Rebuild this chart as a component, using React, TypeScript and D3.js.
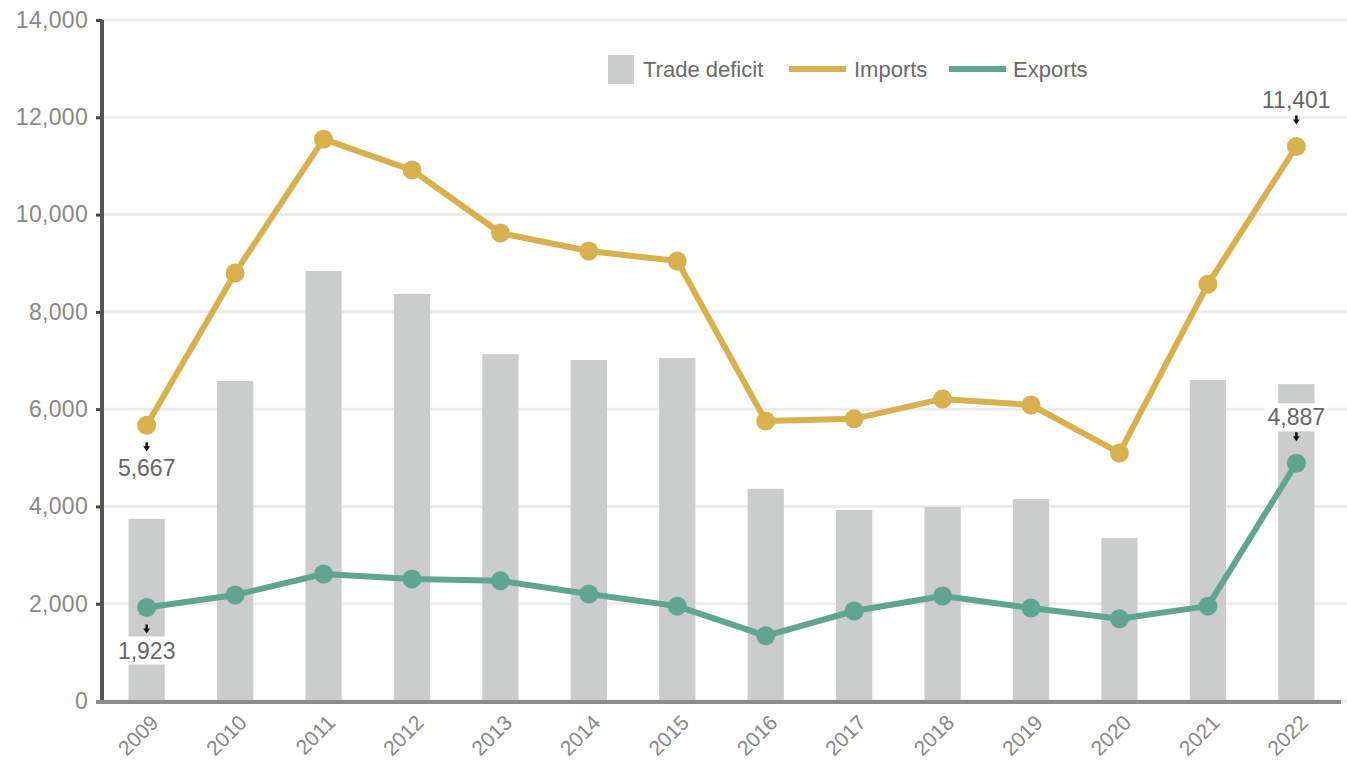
import * as d3 from 'd3';
import React, { useEffect, useRef } from 'react';

const years = ['2009', '2010', '2011', '2012', '2013', '2014', '2015', '2016', '2017', '2018', '2019', '2020', '2021', '2022'];
const tradeDeficit = [3744, 6580, 8840, 8370, 7130, 7010, 7050, 4360, 3930, 3990, 4150, 3350, 6600, 6514];
const imports = [5667, 8800, 11550, 10915, 9620, 9250, 9045, 5755, 5800, 6210, 6085, 5100, 8570, 11401];
const exports = [1923, 2180, 2610, 2510, 2470, 2200, 1950, 1340, 1850, 2160, 1910, 1690, 1950, 4887];
const yTicks = [0, 2000, 4000, 6000, 8000, 10000, 12000, 14000];

// which points get a value label, and on which side
const callouts = [
  { series: 'imports', index: 0, side: 'below' },
  { series: 'exports', index: 0, side: 'below' },
  { series: 'imports', index: 13, side: 'above' },
  { series: 'exports', index: 13, side: 'above' },
];

const IMPORT_COLOR = '#d8b04e';
const EXPORT_COLOR = '#5fa58f';
const BAR_COLOR = '#cbcccc';

const W = 1347;
const H = 769;

export default function App() {
  const svgRef = useRef<SVGSVGElement>(null);

  useEffect(() => {
    if (!svgRef.current) return;
    const svg = d3.select(svgRef.current);
    svg.selectAll('*').remove();

    const margin = { top: 20, right: 6, bottom: 68, left: 102 };
    const innerW = W - margin.left - margin.right;
    const innerH = H - margin.top - margin.bottom;
    const font = '"Liberation Sans", Arial, sans-serif';

    const x = d3.scaleBand().domain(years).range([0, innerW]).paddingInner(0.59).paddingOuter(0.3);
    const y = d3.scaleLinear().domain([0, 14000]).range([innerH, 0]);
    const fmt = d3.format(',');

    const g = svg.append('g').attr('transform', `translate(${margin.left},${margin.top})`);

    // grid lines
    g.append('g')
      .selectAll('line')
      .data(yTicks)
      .join('line')
      .attr('x1', 0)
      .attr('x2', innerW + margin.right)
      .attr('y1', d => y(d))
      .attr('y2', d => y(d))
      .attr('stroke', '#ececec')
      .attr('stroke-width', 3);

    // bars
    g.append('g')
      .selectAll('rect')
      .data(tradeDeficit)
      .join('rect')
      .attr('x', (d, i) => x(years[i]) || 0)
      .attr('y', d => y(d))
      .attr('width', x.bandwidth())
      .attr('height', d => innerH - y(d))
      .attr('fill', BAR_COLOR);

    // y axis
    const yAxis = g.append('g')
      .call(d3.axisLeft(y).tickValues(yTicks).tickSize(6).tickPadding(8).tickFormat(d => fmt(Number(d))));
    yAxis.select('.domain').remove();
    yAxis.selectAll('line').attr('stroke', '#444').attr('stroke-width', 3);
    yAxis.selectAll('text')
      .attr('fill', '#888')
      .style('font-family', font)
      .style('font-size', '23px')
      .style('letter-spacing', '0.3px');
    g.append('line')
      .attr('x1', 0).attr('x2', 0)
      .attr('y1', 0).attr('y2', innerH)
      .attr('stroke', '#555')
      .attr('stroke-width', 4);

    // x axis
    const xAxis = g.append('g')
      .attr('transform', `translate(0,${innerH})`)
      .call(d3.axisBottom(x).tickSize(0).tickPadding(0));
    xAxis.select('.domain').remove();
    xAxis.selectAll('text')
      .attr('fill', '#888')
      .style('font-family', font)
      .style('font-size', '21px')
      .attr('text-anchor', 'end')
      .attr('dy', null)
      .attr('transform', 'translate(13,23) rotate(-45)');
    g.append('line')
      .attr('x1', -6).attr('x2', innerW)
      .attr('y1', innerH + 1).attr('y2', innerH + 1)
      .attr('stroke', '#8c8c8c')
      .attr('stroke-width', 4);

    // lines
    const cx = (i: number) => (x(years[i]) || 0) + x.bandwidth() / 2;
    const series = [
      { key: 'imports', values: imports, color: IMPORT_COLOR },
      { key: 'exports', values: exports, color: EXPORT_COLOR },
    ];
    series.forEach(s => {
      const line = d3.line<number>().x((d, i) => cx(i)).y(d => y(d));
      g.append('path')
        .datum(s.values)
        .attr('d', line)
        .attr('fill', 'none')
        .attr('stroke', s.color)
        .attr('stroke-width', 6)
        .attr('stroke-linejoin', 'round');
      g.append('g')
        .selectAll('circle')
        .data(s.values)
        .join('circle')
        .attr('cx', (d, i) => cx(i))
        .attr('cy', d => y(d))
        .attr('r', 9.5)
        .attr('fill', s.color);
    });

    // callouts: label plus a small downward pointer between label and point
    callouts.forEach(c => {
      const vals = c.series === 'imports' ? imports : exports;
      const v = vals[c.index];
      const px = cx(c.index);
      const py = y(v);
      const dir = c.side === 'above' ? -1 : 1;
      const labelY = py + dir * (dir < 0 ? 46 : 43);
      const label = g.append('g');
      const text = label.append('text')
        .attr('x', px)
        .attr('y', labelY)
        .attr('dy', '0.35em')
        .attr('text-anchor', 'middle')
        .attr('fill', '#666')
        .style('font-family', font)
        .style('font-size', '23px')
        .text(fmt(v));
      const bb = (text.node() as SVGTextElement).getBBox();
      label.insert('rect', 'text')
        .attr('x', bb.x - 3)
        .attr('y', bb.y - 1)
        .attr('width', bb.width + 6)
        .attr('height', bb.height + 2)
        .attr('fill', '#fff');
      const top = dir > 0 ? py + 17 : py - 31;
      const bottom = top + 9;
      g.append('line')
        .attr('x1', px).attr('x2', px)
        .attr('y1', top).attr('y2', bottom - 3)
        .attr('stroke', '#111')
        .attr('stroke-width', 2.5);
      g.append('path')
        .attr('d', `M${px - 3.5},${bottom - 5} L${px + 3.5},${bottom - 5} L${px},${bottom} Z`)
        .attr('fill', '#111');
    });

    // legend
    const legend = svg.append('g').attr('transform', 'translate(608,69)');
    legend.append('rect').attr('x', 0).attr('y', -14).attr('width', 26).attr('height', 29).attr('fill', BAR_COLOR);
    legend.append('text').attr('x', 35).attr('y', 0).attr('dy', '0.35em').text('Trade deficit');
    legend.append('line').attr('x1', 181).attr('x2', 238).attr('y1', 0).attr('y2', 0)
      .attr('stroke', IMPORT_COLOR).attr('stroke-width', 6);
    legend.append('text').attr('x', 246).attr('y', 0).attr('dy', '0.35em').text('Imports');
    legend.append('line').attr('x1', 341).attr('x2', 398).attr('y1', 0).attr('y2', 0)
      .attr('stroke', EXPORT_COLOR).attr('stroke-width', 6);
    legend.append('text').attr('x', 405).attr('y', 0).attr('dy', '0.35em').text('Exports');
    legend.selectAll('text')
      .attr('fill', '#6a6a6a')
      .style('font-family', font)
      .style('font-size', '22px');
  }, []);

  return (
    <div style={{ position: 'absolute', left: 0, top: 0 }}>
      <svg ref={svgRef} width={W} height={H} style={{ display: 'block', background: '#fff' }} />
    </div>
  );
}
